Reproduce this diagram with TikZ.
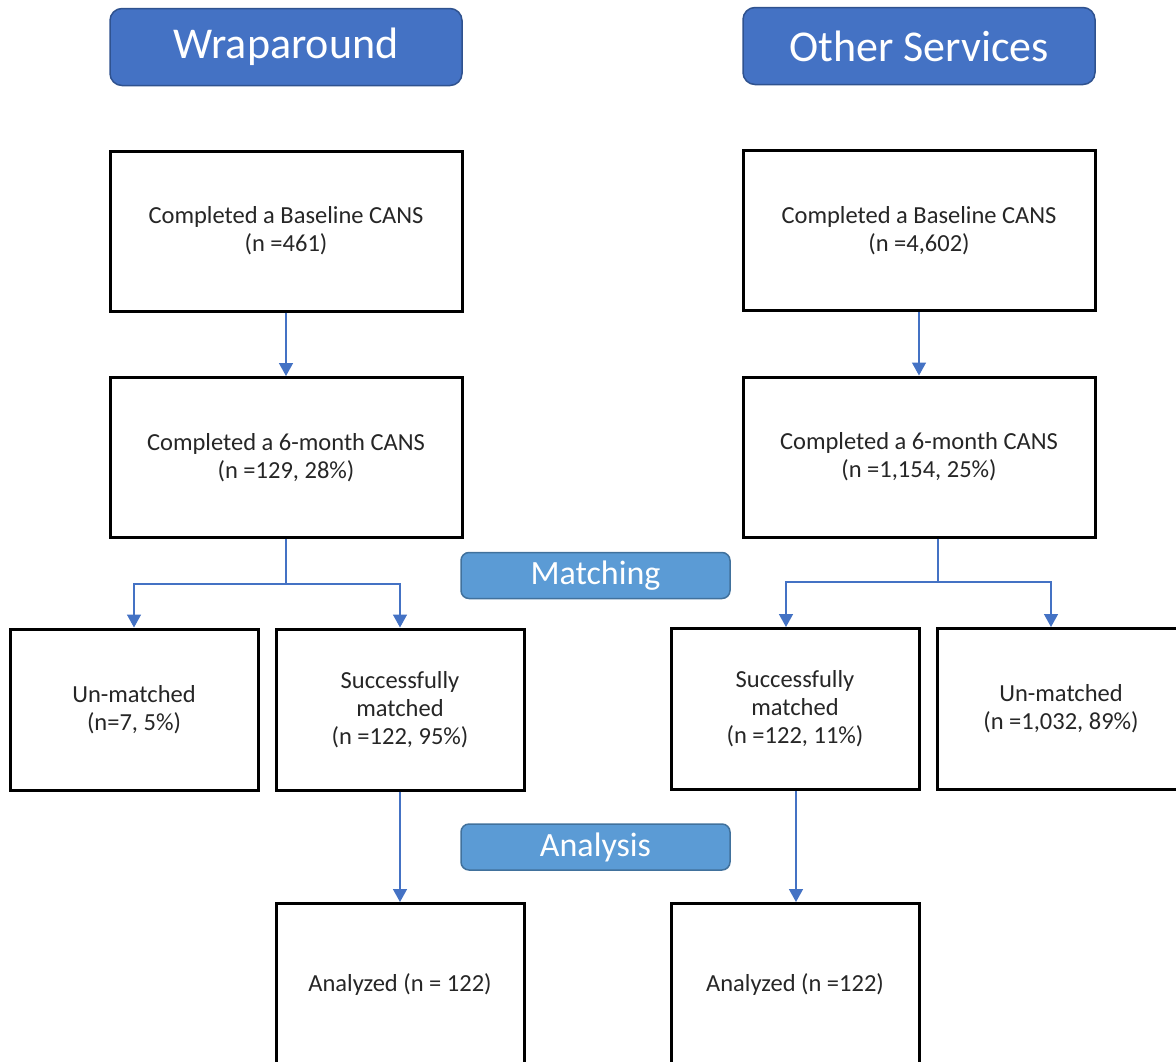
\documentclass[tikz,border=0pt]{standalone}
\usepackage{fontspec}
\setmainfont{Carlito}
\usetikzlibrary{arrows.meta}
\definecolor{headblue}{HTML}{4472C4}
\definecolor{headedge}{HTML}{2F528F}
\definecolor{phaseblue}{HTML}{5B9BD5}
\definecolor{phaseedge}{HTML}{41719C}
\definecolor{textgray}{HTML}{262626}

\begin{document}
\begin{tikzpicture}[x=1pt,y=-1pt,
  header/.style={draw=headedge, line width=1.5pt, fill=headblue, rounded corners=12pt, text=white,
    font=\fontsize{44}{50}\selectfont, minimum width=352pt, minimum height=77pt, inner sep=0pt},
  phase/.style={draw=phaseedge, line width=1.5pt, fill=phaseblue, rounded corners=8pt, text=white,
    font=\fontsize{34}{40}\selectfont, minimum width=269pt, minimum height=46pt, inner sep=0pt},
  bigbox/.style={draw=black, line width=3pt, text=textgray, font=\fontsize{24.5}{28}\selectfont,
    align=center, minimum width=352pt, minimum height=160pt, inner sep=0pt},
  smallbox/.style={bigbox, minimum width=248pt, minimum height=161pt},
  wire/.style={draw=headblue, line width=1.5pt},
  link/.style={wire, -{Triangle[width=14pt,length=13pt]}}]
\useasboundingbox (0,0) rectangle (1176,1061);
\clip (0,0) rectangle (1176,1061);

% headers
\node[header] (wrap) at (286,47) {Wraparound};
\node[header] (other) at (919,46) {Other Services};

% wraparound column
\node[bigbox] (baseL) at (286,231) {Completed a Baseline CANS\\(n =461)};
\node[bigbox] (sixL) at (286,457.5) {Completed a 6-month CANS\\(n =129, 28\%)};
\node[smallbox] (unL) at (134,709.5) {Un-matched\\(n=7, 5\%)};
\node[smallbox] (succL) at (400,709.5) {Successfully\\matched\\(n =122, 95\%)};
\node[smallbox] (anaL) at (400,984) {Analyzed (n = 122)};

% other services column
\node[bigbox] (baseR) at (919,230.5) {Completed a Baseline CANS\\(n =4,602)};
\node[bigbox] (sixR) at (919,457) {Completed a 6-month CANS\\(n =1,154, 25\%)};
\node[smallbox] (succR) at (795,709) {Successfully\\matched\\(n =122, 11\%)};
\node[smallbox] (unR) at (1061,709) {Un-matched\\(n =1,032, 89\%)};
\node[smallbox] (anaR) at (795,984) {Analyzed (n =122)};

% phases
\node[phase] (matching) at (595.5,575.5) {Matching};
\node[phase] (analysis) at (595.5,847) {Analysis};

% connectors
\coordinate (splitL) at (286,584);
\coordinate (splitR) at (938,582);
\draw[link] (baseL) -- (sixL);
\draw[link] (baseR) -- (sixR);
\draw[wire] (sixL.south) -- (splitL);
\draw[link] (splitL) -| (unL.north);
\draw[link] (splitL) -| (succL.north);
\draw[wire] (sixR.south -| splitR) -- (splitR);
\draw[link] (splitR) -| ([xshift=-9pt]succR.north);
\draw[link] (splitR) -| ([xshift=-10pt]unR.north);
\draw[link] (succL) -- (anaL);
\draw[link] ([xshift=1pt]succR.south) -- ([xshift=1pt]anaR.north);
\end{tikzpicture}
\end{document}
